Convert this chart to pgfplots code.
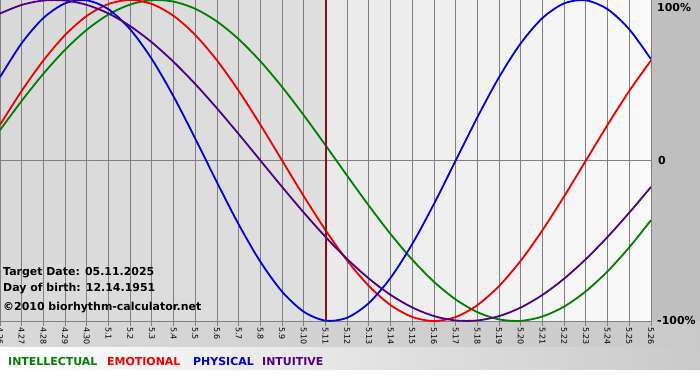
\documentclass[border=0pt]{standalone}
\usepackage{fontspec}
\setmainfont{DejaVu Sans}
\usepackage{pgfplots}
\pgfplotsset{compat=1.18}
\usepackage{pgfplotstable}

\definecolor{cInt}{RGB}{0,128,0}
\definecolor{cEmo}{RGB}{240,0,0}
\definecolor{cPhy}{RGB}{0,0,225}
\definecolor{cItu}{RGB}{80,0,130}
\definecolor{cTgt}{RGB}{130,20,20}
\definecolor{cGrid}{RGB}{128,128,128}

\pgfplotstableread{
x  phy     emo     int     itu
0  0.5196  0.2225  0.1893  0.9158
1  0.7308  0.4339  0.3717  0.9694
2  0.8879  0.6235  0.5406  0.9966
3  0.9791  0.7818  0.6901  0.9966
4  0.9977  0.9010  0.8146  0.9694
5  0.9423  0.9749  0.9096  0.9158
6  0.8170  1.0000  0.9718  0.8372
7  0.6311  0.9749  0.9989  0.7357
8  0.3984  0.9010  0.9898  0.6142
9  0.1362  0.7818  0.9450  0.4759
10 -0.1362 0.6235  0.8660  0.3247
11 -0.3984 0.4339  0.7557  0.1646
12 -0.6311 0.2225  0.6182  0.0000
13 -0.8170 0.0000  0.4582  -0.1646
14 -0.9423 -0.2225 0.2817  -0.3247
15 -0.9977 -0.4339 0.0951  -0.4759
16 -0.9791 -0.6235 -0.0951 -0.6142
17 -0.8879 -0.7818 -0.2817 -0.7357
18 -0.7308 -0.9010 -0.4582 -0.8372
19 -0.5196 -0.9749 -0.6182 -0.9158
20 -0.2698 -1.0000 -0.7557 -0.9694
21 0.0000  -0.9749 -0.8660 -0.9966
22 0.2698  -0.9010 -0.9450 -0.9966
23 0.5196  -0.7818 -0.9898 -0.9694
24 0.7308  -0.6235 -0.9989 -0.9158
25 0.8879  -0.4339 -0.9718 -0.8372
26 0.9791  -0.2225 -0.9096 -0.7357
27 0.9977  0.0000  -0.8146 -0.6142
28 0.9423  0.2225  -0.6901 -0.4759
29 0.8170  0.4339  -0.5406 -0.3247
30 0.6311  0.6235  -0.3717 -0.1646
}\bio

\begin{document}
\begin{tikzpicture}[x=1bp,y=1bp]
\useasboundingbox (0,-59) rectangle (700,321);
\clip (0,-59) rectangle (700,321);
\fill[white] (0,-59) rectangle (700,321);
\fill[gray!50] (651,0) rectangle (700,321);
\shade[left color=gray!30, right color=gray!42] (0,-26) rectangle (700,0);
\shade[left color=white, right color=gray!42] (0,-48) rectangle (700,-26);
\shade[left color=gray!30, right color=gray!25] (0,0) rectangle (325.5,321);
\shade[left color=gray!17, right color=gray!4] (325.5,0) rectangle (651,321);

\begin{axis}[
  at={(0,0)}, anchor=south west,
  scale only axis, width=651bp, height=321bp,
  xmin=0, xmax=30, ymin=-1, ymax=1,
  axis line style={draw=none},
  xtick={0,...,30},
  xticklabels={4.26,4.27,4.28,4.29,4.30,5.1,5.2,5.3,5.4,5.5,5.6,5.7,5.8,5.9,5.10,5.11,5.12,5.13,5.14,5.15,5.16,5.17,5.18,5.19,5.20,5.21,5.22,5.23,5.24,5.25,5.26},
  ytick={-1,0}, yticklabels={},
  xmajorgrids, ymajorgrids,
  grid style={draw=cGrid, line width=1bp},
  major tick length=5bp, tick align=outside,
  xtick pos=left,
  ytick style={draw=none},
  xtick style={draw=cGrid, line width=1bp},
  xticklabel style={rotate=-90, anchor=west, font=\fontsize{8}{9}\selectfont, inner sep=1bp},
]
\addplot[cInt, line width=1.8bp, smooth, no markers] table[x=x,y=int]{\bio};
\addplot[cEmo, line width=1.8bp, smooth, no markers] table[x=x,y=emo]{\bio};
\addplot[cPhy, line width=1.8bp, smooth, no markers] table[x=x,y=phy]{\bio};
\addplot[cItu, line width=1.8bp, smooth, no markers] table[x=x,y=itu]{\bio};
\addplot[cTgt, line width=2bp, no markers] coordinates {(15,-1) (15,1)};
\end{axis}

\begin{scope}[font=\bfseries\fontsize{11}{12}\selectfont]
\node[anchor=west, inner sep=0] at (657,313) {100\%};
\node[anchor=west, inner sep=0] at (658,160) {0};
\node[anchor=west, inner sep=0] at (657,0) {-100\%};
\node[anchor=base west, inner sep=0] at (3,46) {Target Date: 05.11.2025};
\node[anchor=base west, inner sep=0] at (3,30) {Day of birth: 12.14.1951};
\node[anchor=base west, inner sep=0] at (3,11) {©2010 biorhythm-calculator.net};
\node[anchor=base west, inner sep=0, text=cInt] at (8,-44) {INTELLECTUAL};
\node[anchor=base west, inner sep=0, text=cEmo] at (107,-44) {EMOTIONAL};
\node[anchor=base west, inner sep=0, text=cPhy] at (193,-44) {PHYSICAL};
\node[anchor=base west, inner sep=0, text=cItu] at (262,-44) {INTUITIVE};
\end{scope}
\end{tikzpicture}
\end{document}
